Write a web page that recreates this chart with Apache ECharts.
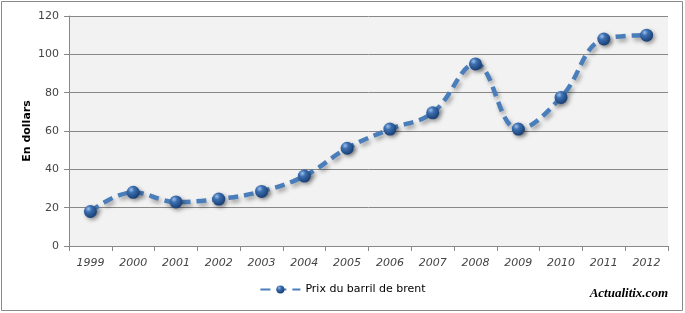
<!DOCTYPE html>
<html><head><meta charset="utf-8">
<script src="https://cdn.jsdelivr.net/npm/echarts@6/dist/echarts.min.js"></script>
<style>html,body{margin:0;padding:0;background:#fff}#c{width:685px;height:313px;}</style>
</head><body><div id="c"></div>
<script>
const years = ['1999','2000','2001','2002','2003','2004','2005','2006','2007','2008','2009','2010','2011','2012'];
const prices = [18, 28, 23, 24.5, 28.5, 36.5, 51, 61, 69.5, 95, 61, 77.5, 108, 110];
const seriesName = 'Prix du barril de brent';
const yAxisTitle = 'En dollars';

const chart = echarts.init(document.getElementById('c'));
const sphere = new echarts.graphic.RadialGradient(0.35, 0.3, 0.7, [
  {offset: 0, color: '#9cc0ee'},
  {offset: 0.35, color: '#3c6fb0'},
  {offset: 1, color: '#1a3f75'}
]);
chart.setOption({
  animation: false,
  graphic: [
    {type: 'rect', shape: {x: 1.5, y: 1.5, width: 681, height: 309}, style: {fill: 'none', stroke: '#8a8a8a', lineWidth: 1}, z: -10},
    {type: 'text', right: 17, top: 287, style: {text: 'Actualitix.com', font: 'italic bold 13px "Liberation Serif", serif', fill: '#000'}},
    {type: 'text', x: 27, y: 131, rotation: Math.PI / 2,
     style: {text: yAxisTitle, font: 'bold 11px "DejaVu Sans"', fill: '#000', align: 'center', verticalAlign: 'middle'}}
  ],
  grid: {left: 69, right: 17, top: 16, bottom: 67, show: true, backgroundColor: '#f2f2f2', borderWidth: 0},
  legend: {
    bottom: 13, left: 'center', itemWidth: 40, itemHeight: 10,
    textStyle: {fontFamily: 'DejaVu Sans', fontSize: 11, color: '#000'},
    data: [seriesName]
  },
  xAxis: {
    type: 'category', data: years, boundaryGap: true,
    axisLine: {lineStyle: {color: '#888'}},
    axisTick: {show: true, length: 5, lineStyle: {color: '#888'}},
    axisLabel: {fontStyle: 'italic', color: '#444', fontSize: 11, fontFamily: 'DejaVu Sans', margin: 12}
  },
  yAxis: {
    type: 'value', min: 0, max: 120, interval: 20,
    axisLine: {show: true, lineStyle: {color: '#888'}},
    axisTick: {show: true, length: 5, inside: false, lineStyle: {color: '#888'}},
    axisLabel: {color: '#444', fontSize: 11, fontFamily: 'DejaVu Sans', margin: 10},
    splitLine: {lineStyle: {color: '#888', width: 1}}
  },
  series: [{
    name: seriesName, type: 'line', data: prices, smooth: 0.4,
    symbol: 'circle', symbolSize: 13,
    lineStyle: {color: '#4a7ebb', width: 4.5, type: [10, 6], shadowColor: 'rgba(0,0,0,0.35)', shadowBlur: 4, shadowOffsetX: 2, shadowOffsetY: 3},
    itemStyle: {color: sphere, borderWidth: 0, shadowColor: 'rgba(0,0,0,0.4)', shadowBlur: 4, shadowOffsetX: 2, shadowOffsetY: 2}
  }]
});
</script></body></html>
